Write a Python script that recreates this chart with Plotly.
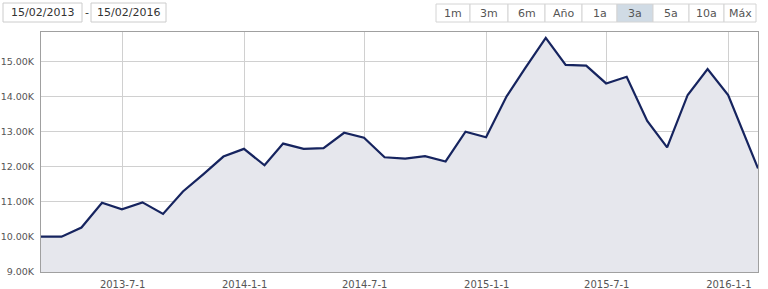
import plotly.graph_objects as go

# ---- data ----
dates = [
    "2013-02-28", "2013-03-31", "2013-04-30", "2013-05-31", "2013-06-30",
    "2013-07-31", "2013-08-31", "2013-09-30", "2013-10-31", "2013-11-30",
    "2013-12-31", "2014-01-31", "2014-02-28", "2014-03-31", "2014-04-30",
    "2014-05-31", "2014-06-30", "2014-07-31", "2014-08-31", "2014-09-30",
    "2014-10-31", "2014-11-30", "2014-12-31", "2015-01-31", "2015-02-28",
    "2015-03-31", "2015-04-30", "2015-05-31", "2015-06-30", "2015-07-31",
    "2015-08-31", "2015-09-30", "2015-10-31", "2015-11-30", "2015-12-31",
    "2016-02-14",
]
values = [
    10000, 10000, 10260, 10970, 10780,
    10980, 10650, 11290, 11790, 12290,
    12510, 12040, 12660, 12510, 12530,
    12970, 12830, 12270, 12230, 12300,
    12150, 13000, 12840, 14010, 14820,
    15680, 14910, 14890, 14380, 14570,
    13310, 12550, 14050, 14790, 14050,
    11950,
]
y_tick_vals = [9000, 10000, 11000, 12000, 13000, 14000, 15000]
y_tick_text = ["9.00K", "10.00K", "11.00K", "12.00K", "13.00K", "14.00K", "15.00K"]
x_tick_vals = ["2013-07-01", "2014-01-01", "2014-07-01", "2015-01-01", "2015-07-01", "2016-01-01"]
x_tick_text = ["2013-7-1", "2014-1-1", "2014-7-1", "2015-1-1", "2015-7-1", "2016-1-1"]
range_buttons = ["1m", "3m", "6m", "Año", "1a", "3a", "5a", "10a", "Máx"]
active_button = "3a"
date_from = "15/02/2013"
date_to = "15/02/2016"

# ---- layout geometry (pixels) ----
W, H = 768, 289
L, R, T, B = 41, 10, 32, 17
PW, PH = W - L - R, H - T - B


def px(x):
    return (x - L) / PW


def py(y):
    return (H - B - y) / PH


FONT = "DejaVu Sans, Verdana, sans-serif"

fig = go.Figure()
fig.add_trace(go.Scatter(
    x=dates, y=values, mode="lines",
    line=dict(color="#16245f", width=2.2),
    fill="tozeroy", fillcolor="#e6e7ed",
    hoverinfo="skip", showlegend=False,
))

shapes = []
annotations = []

# date boxes
for (x0, x1, txt) in [(3, 82, date_from), (91, 166, date_to)]:
    shapes.append(dict(type="rect", xref="paper", yref="paper",
                       x0=px(x0), x1=px(x1), y0=py(22), y1=py(3),
                       line=dict(color="#cccccc", width=1), fillcolor="white", layer="above"))
    annotations.append(dict(xref="paper", yref="paper", x=px((x0 + x1) / 2), y=py(12.5),
                            text=txt, showarrow=False, xanchor="center", yanchor="middle",
                            font=dict(family=FONT, size=11, color="#333333")))
annotations.append(dict(xref="paper", yref="paper", x=px(86.5), y=py(12.5), text="-",
                        showarrow=False, xanchor="center", yanchor="middle",
                        font=dict(family=FONT, size=11, color="#333333")))

# range selector buttons
edges = [436, 470, 508, 545, 582, 617, 653, 689, 724, 756]
for i, lab in enumerate(range_buttons):
    x0, x1 = edges[i], edges[i + 1]
    shapes.append(dict(type="rect", xref="paper", yref="paper",
                       x0=px(x0), x1=px(x1), y0=py(22), y1=py(4),
                       line=dict(color="#d4d4d4", width=1),
                       fillcolor="#d0dbe5" if lab == active_button else "white", layer="above"))
    annotations.append(dict(xref="paper", yref="paper", x=px((x0 + x1) / 2), y=py(13),
                            text=lab, showarrow=False, xanchor="center", yanchor="middle",
                            font=dict(family=FONT, size=11, color="#555555")))

fig.update_layout(
    width=W, height=H,
    margin=dict(l=L, r=R, t=T, b=B, pad=0, autoexpand=False),
    paper_bgcolor="white", plot_bgcolor="white",
    shapes=shapes, annotations=annotations,
    xaxis=dict(
        range=["2013-02-28", "2016-02-14"],
        tickvals=x_tick_vals, ticktext=x_tick_text,
        showgrid=True, gridcolor="#d0d0d0", gridwidth=1,
        showline=True, linecolor="#a0a0a0", linewidth=1, mirror=True,
        ticks="", tickfont=dict(family=FONT, size=10, color="#555555"),
        ticklabelstandoff=3,
        zeroline=False, fixedrange=True, automargin=False,
    ),
    yaxis=dict(
        range=[8990, 15850],
        tickvals=y_tick_vals, ticktext=y_tick_text,
        showgrid=True, gridcolor="#d0d0d0", gridwidth=1,
        showline=True, linecolor="#a0a0a0", linewidth=1, mirror=True,
        ticks="", tickfont=dict(family=FONT, size=9.5, color="#555555"),
        ticklabelstandoff=4,
        zeroline=False, fixedrange=True, automargin=False,
    ),
)

fig.write_html("out.html", config={"displayModeBar": False})
